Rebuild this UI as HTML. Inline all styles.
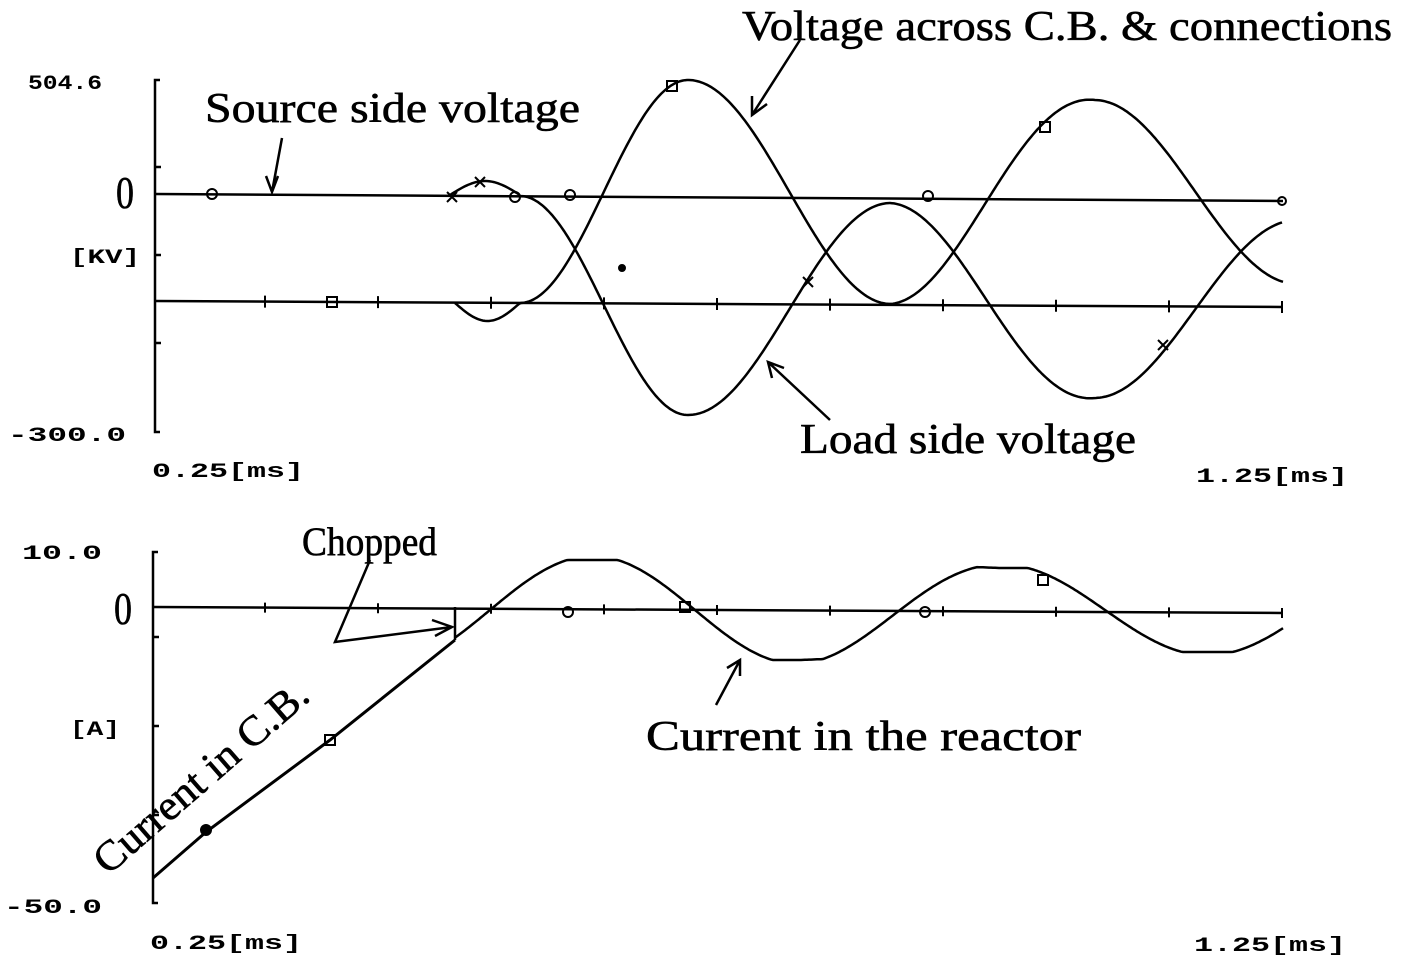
<!DOCTYPE html>
<html><head><meta charset="utf-8"><style>
html,body{margin:0;padding:0;background:#fff;}
svg{display:block;}
.lbl{font-family:"Liberation Serif",serif;fill:#000;stroke:#000;stroke-width:0.6;}
.ax{font-family:"Liberation Mono",monospace;font-weight:bold;fill:#000;font-size:20px;}
</style></head><body>
<svg id="s" width="1405" height="961" viewBox="0 0 1405 961" xmlns="http://www.w3.org/2000/svg" fill="none" stroke="#000" stroke-width="2.5">
<path d="M160 80 L155 80 L155 432 L160 432"/>
<path d="M155 167 H161 M155 255 H161 M155 343 H161"/>
<path d="M155 194 L1283 201"/>
<path d="M155 301 L1283 307"/>
<path id="topTicks" stroke-width="2"/>
<path id="curveA"/>
<path id="curveB"/>
<path d="M158 552 L153 552 L153 903 L158 903"/>
<path d="M153 637 H159 M153 726 H159 M153 815 H159"/>
<path d="M153 607 L1283 613"/>
<path id="botTicks" stroke-width="2"/>
<path d="M153 878 L206 832 L330 740 L455 640" stroke-width="3"/>
<path d="M455 607 L455 640"/>
<path id="curveC"/>
<path d="M282 138 L272 192 M266 176 L272 192 L278 176"/>
<path d="M800 40 L752 115 M752 96 L752 115 L767 104"/>
<path d="M830 420 L768 362 M772 378 L768 362 L784 368"/>
<path d="M370 560 L335 642 L452 627 M432 620 L452 627 L435 636"/>
<path d="M716 705 L740 660 M727 668 L740 660 L740 676"/>
<g stroke-width="2">
<circle cx="212" cy="194" r="5"/><circle cx="515" cy="197" r="5"/><circle cx="570" cy="195" r="5"/><circle cx="928" cy="196" r="5"/><circle cx="1282" cy="201" r="4"/>
<rect x="327" y="297" width="10" height="10"/><rect x="667" y="81" width="10" height="10"/><rect x="1040" y="122" width="10" height="10"/>
<path d="M447 192 l10 10 M457 192 l-10 10 M475 177 l10 10 M485 177 l-10 10 M803 277 l10 10 M813 277 l-10 10 M1158 340 l10 10 M1168 340 l-10 10"/>
<circle cx="622" cy="268" r="3" fill="#000"/>
<circle cx="206" cy="830" r="5" fill="#000"/><rect x="325" y="735" width="10" height="10"/>
<circle cx="568" cy="612" r="5"/><rect x="680" y="602" width="10" height="10"/><circle cx="925" cy="612" r="5"/><rect x="1038" y="575" width="10" height="10"/>
</g>
<g stroke="none">
<text class="lbl" x="742" y="40" font-size="42" textLength="650" lengthAdjust="spacingAndGlyphs">Voltage across C.B. &amp; connections</text>
<text class="lbl" x="205" y="122" font-size="42" textLength="375" lengthAdjust="spacingAndGlyphs">Source side voltage</text>
<text class="lbl" x="800" y="453" font-size="42" textLength="336" lengthAdjust="spacingAndGlyphs">Load side voltage</text>
<text class="lbl" x="116" y="208" font-size="46" textLength="18" lengthAdjust="spacingAndGlyphs">0</text>
<text class="lbl" x="302" y="555" font-size="40" textLength="135" lengthAdjust="spacingAndGlyphs">Chopped</text>
<text class="lbl" x="114" y="624" font-size="46" textLength="18" lengthAdjust="spacingAndGlyphs">0</text>
<text class="lbl" x="646" y="750" font-size="42" textLength="435" lengthAdjust="spacingAndGlyphs">Current in the reactor</text>
<text class="lbl" x="0" y="0" font-size="42" textLength="270" lengthAdjust="spacingAndGlyphs" transform="translate(108 876) rotate(-41)">Current in C.B.</text>
<text class="ax" x="28" y="89" textLength="74" lengthAdjust="spacingAndGlyphs">504.6</text>
<text class="ax" x="70" y="263" textLength="70" lengthAdjust="spacingAndGlyphs">[KV]</text>
<text class="ax" x="8" y="441" textLength="118" lengthAdjust="spacingAndGlyphs">-300.0</text>
<text class="ax" x="152" y="477" textLength="152" lengthAdjust="spacingAndGlyphs">0.25[ms]</text>
<text class="ax" x="1196" y="482" textLength="152" lengthAdjust="spacingAndGlyphs">1.25[ms]</text>
<text class="ax" x="22" y="559" textLength="80" lengthAdjust="spacingAndGlyphs">10.0</text>
<text class="ax" x="70" y="735" textLength="50" lengthAdjust="spacingAndGlyphs">[A]</text>
<text class="ax" x="4" y="913" textLength="98" lengthAdjust="spacingAndGlyphs">-50.0</text>
<text class="ax" x="150" y="949" textLength="152" lengthAdjust="spacingAndGlyphs">0.25[ms]</text>
<text class="ax" x="1194" y="951" textLength="152" lengthAdjust="spacingAndGlyphs">1.25[ms]</text>
</g>
</svg>
<script>
(function(){
var P=Math.PI;
function path(f,x0,x1){var d="";for(var x=x0;x<=x1;x+=2){d+=(x==x0?"M":"L")+x+" "+f(x).toFixed(1)+" ";}return d;}
function lerp(a,b,t){t=Math.max(0,Math.min(1,t));return a+(b-a)*t;}
function A(x){
 if(x<520) return 195-14*Math.sin(P*(x-450)/70);
 if(x<688) return 196+(415-196)*(1-Math.cos(P*(x-520)/168))/2;
 var amp=x<890?106:lerp(106,89,(x-890)/205);
 return 309+amp*Math.cos(P*(x-688)/203);
}
function B(x){
 if(x<520) return 303+18*Math.sin(P*(x-455)/65);
 if(x<688) return 303-(303-80)*(1-Math.cos(P*(x-520)/168))/2;
 var amp=x<890?112:lerp(112,92,(x-890)/205);
 return 192-amp*Math.cos(P*(x-688)/203);
}
function C(x){
 var amp=x<800?50:lerp(50,42,(x-800)/200);
 var s=Math.sin(P*(x-490)/205);
 var v=Math.sign(s)*Math.min(1,Math.abs(s)*1.08);
 return 610-amp*v;
}
document.getElementById("curveA").setAttribute("d",path(A,450,1283));
document.getElementById("curveB").setAttribute("d",path(B,455,1283));
document.getElementById("curveC").setAttribute("d",path(C,455,1283));
var t="",b="";
for(var x=265;x<=1283;x+=113){var y1=301+(x-155)*6/1128;t+="M"+x+" "+(y1-6)+" V"+(y1+6)+" ";var y2=607+(x-153)*6/1130;b+="M"+x+" "+(y2-5)+" V"+(y2+5)+" ";}
document.getElementById("topTicks").setAttribute("d",t);
document.getElementById("botTicks").setAttribute("d",b);
})();
</script>
</body></html>
